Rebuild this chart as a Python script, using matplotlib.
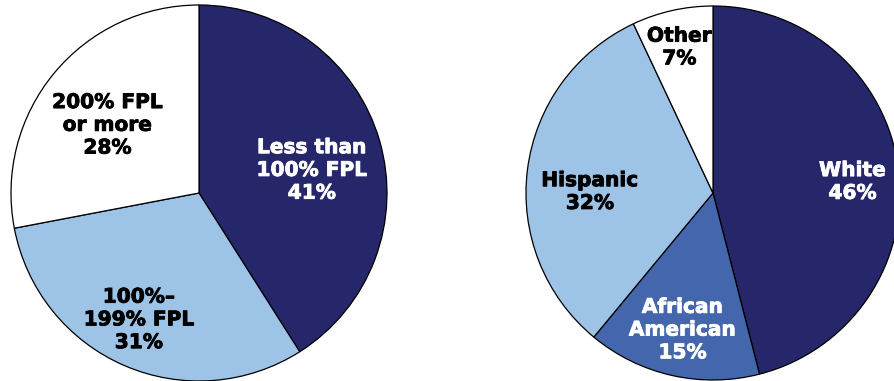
import matplotlib
matplotlib.use("Agg")
import matplotlib.pyplot as plt
import matplotlib.patheffects as pe

# data
income_labels = ["Less than\n100% FPL", "100%–\n199% FPL", "200% FPL\nor more"]
income_values = [41, 31, 28]

race_labels = ["White", "African\nAmerican", "Hispanic", "Other"]
race_values = [46, 15, 32, 7]

# styles
navy = "#26266B"
mid_blue = "#4466AD"
light_blue = "#9DC3E6"
income_colors = [navy, light_blue, "white"]
income_text = ["white", "black", "black"]
race_colors = [navy, mid_blue, light_blue, "white"]
race_text = ["white", "white", "black", "black"]

# label positions in pie units (radius = 1)
income_pos = [(0.60, 0.12), (-0.32, -0.675), (-0.487, 0.36)]
race_pos = [(0.746, 0.059), (-0.163, -0.733), (-0.658, 0.005), (-0.18, 0.778)]

W, H = 894, 381
fig = plt.figure(figsize=(W / 100, H / 100), dpi=100)
fig.patch.set_facecolor("white")


def pie_axes(cx, cy, r):
    # cx, cy in pixels from top-left
    return fig.add_axes([(cx - r) / W, (H - cy - r) / H, 2 * r / W, 2 * r / H])


def draw_pie(ax, values, labels, colors, text_colors, positions):
    ax.pie(values, colors=colors, startangle=90, counterclock=False, radius=1,
           wedgeprops=dict(edgecolor="black", linewidth=0.9))
    for lab, val, tc, (x, y) in zip(labels, values, text_colors, positions):
        t = ax.text(x, y, f"{lab}\n{val}%", ha="center", va="center",
                    color=tc, fontsize=14.5, fontweight="bold",
                    family="DejaVu Sans", linespacing=1.25)
        t.set_path_effects([pe.withStroke(linewidth=0.6, foreground=tc)])
    ax.set_xlim(-1, 1)
    ax.set_ylim(-1, 1)
    ax.set_aspect("equal")
    ax.axis("off")


ax1 = pie_axes(199, 193, 188)
draw_pie(ax1, income_values, income_labels, income_colors, income_text, income_pos)

ax2 = pie_axes(713, 193, 187)
draw_pie(ax2, race_values, race_labels, race_colors, race_text, race_pos)

fig.savefig("out.png", dpi=100, facecolor="white")
